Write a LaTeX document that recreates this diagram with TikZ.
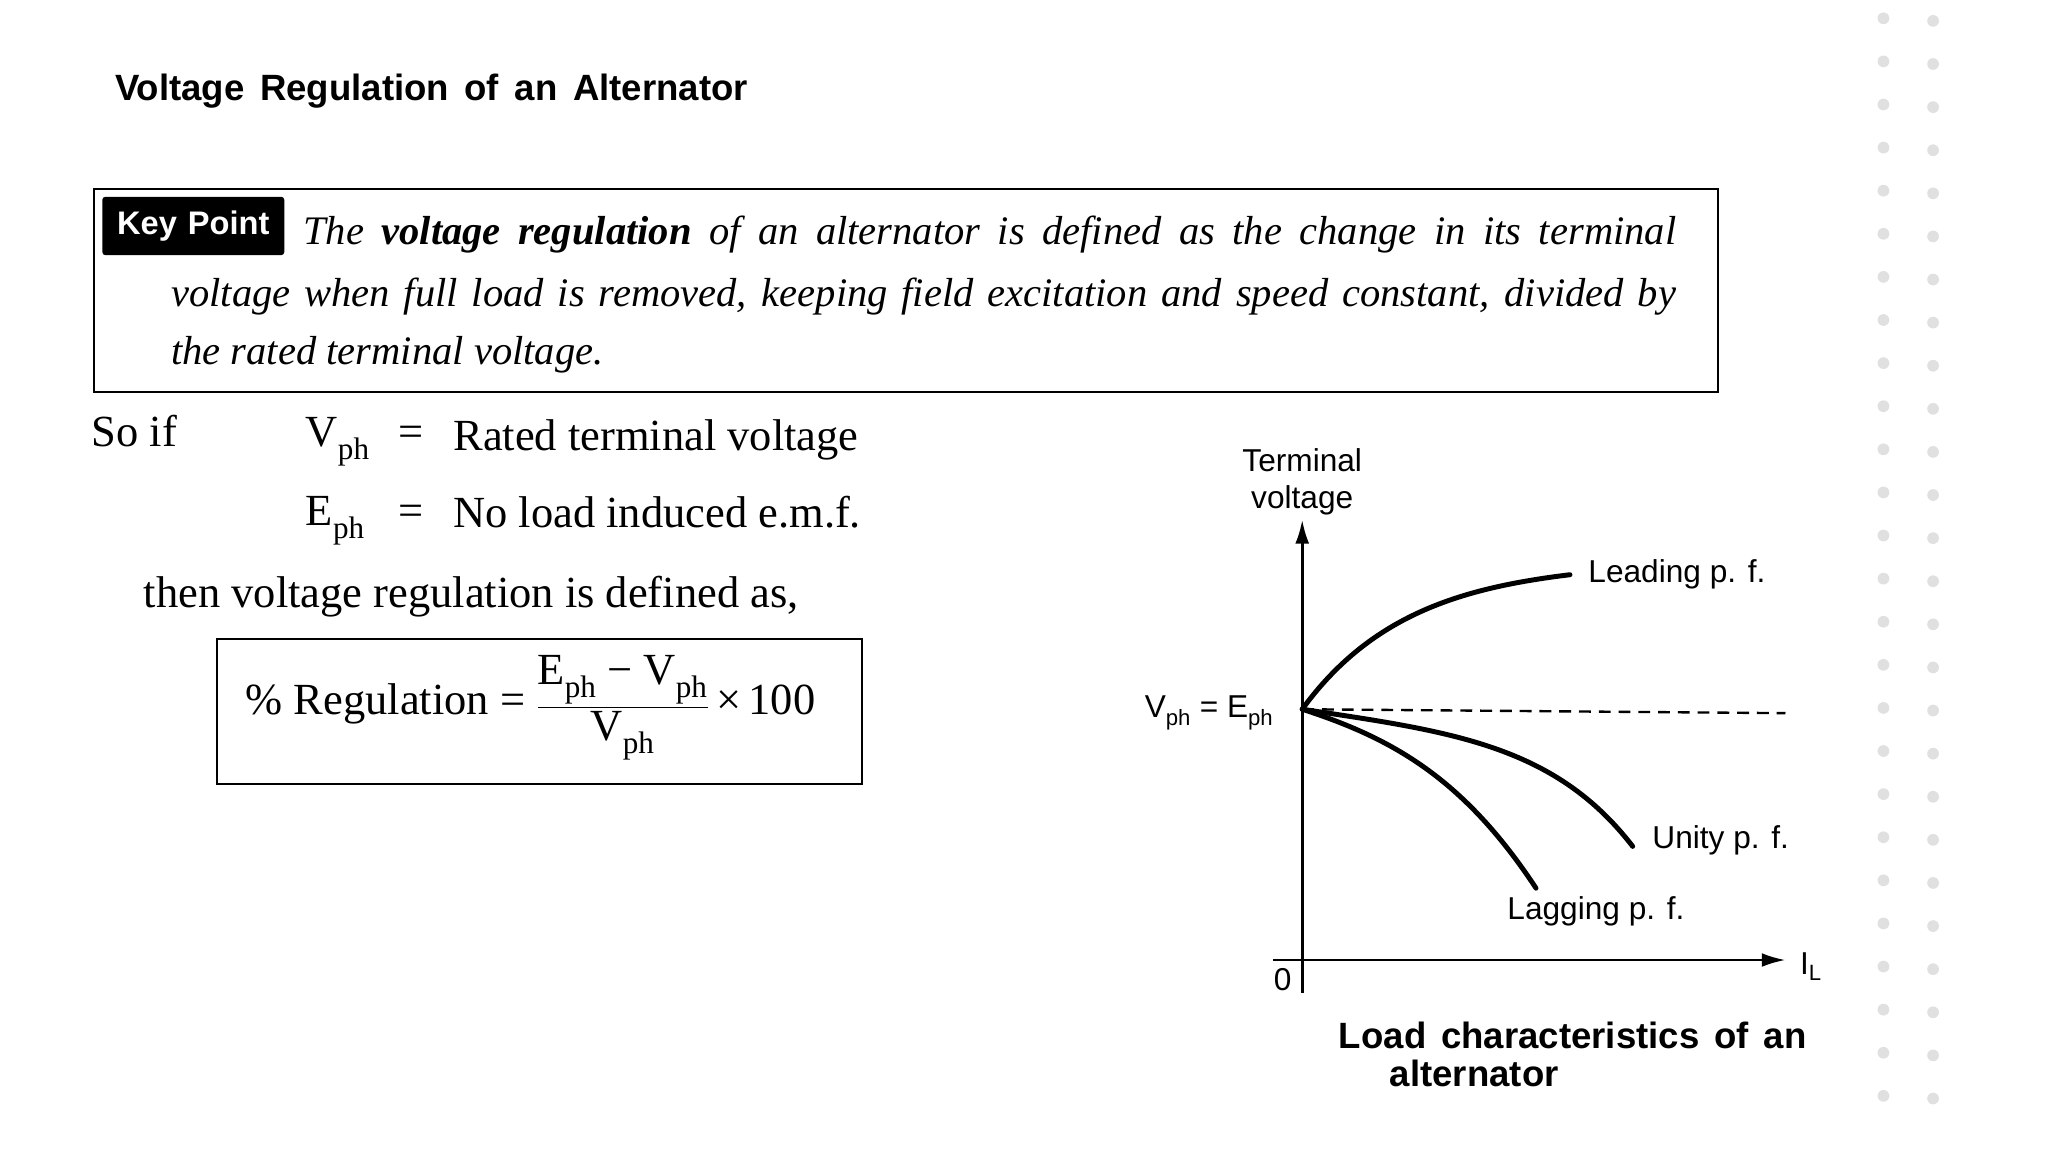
\documentclass[tikz,border=0pt]{standalone}
\usepackage{fontspec}
\setmainfont{Liberation Serif}
\setsansfont{Liberation Sans}
\usepackage{amsmath}
\usetikzlibrary{arrows.meta}
\tikzset{
  body/.style={font=\fontsize{45}{54}\selectfont, inner sep=0pt},
  keytxt/.style={font=\fontsize{41}{48}\selectfont\itshape, inner sep=0pt, anchor=base west},
  glabel/.style={font=\sffamily\fontsize{32}{38}\selectfont, inner sep=0pt},
  capt/.style={font=\sffamily\bfseries\fontsize{37}{43}\selectfont, inner sep=0pt, anchor=west},
  curve/.style={line width=5pt, line cap=round},
  axis/.style={line width=2.6pt, -{Latex[length=24pt,width=14pt]}},
  dotc/.style={fill=black!12, draw=none}
}
\newcommand{\phsub}{$_{\text{ph}}$}
\begin{document}
\begin{tikzpicture}[x=1.3213pt,y=-1.3213pt]
\useasboundingbox (0,0) rectangle (1568,882);
% title
\node[font=\sffamily\bfseries\fontsize{37}{44}\selectfont, anchor=base west, inner sep=0pt] (title) at (88,77) {\makebox[640pt][s]{Voltage Regulation of an Alternator}};
% key point box
\draw[line width=2pt] (72,145) rectangle (1315,300);
\node[fill=black, text=white, font=\sffamily\bfseries\fontsize{33}{38}\selectfont, rounded corners=3pt, inner sep=0pt, minimum height=59pt, text width=184pt, align=center] (kp) at (148,173) {Key Point};
\node[keytxt] (k1) at (232,187) {\makebox[1389pt][s]{The \textbf{voltage regulation} of an alternator is defined as the change in its terminal}};
\node[keytxt] (k2) at (131,235) {\makebox[1522pt][s]{voltage when full load is removed, keeping field excitation and speed constant, divided by}};
\node[keytxt] (k3) at (131,279) {the rated terminal voltage.};
% definitions
\node[body, anchor=base west] (soif) at (70,342) {So if};
\node[body, anchor=base west] (v) at (234,342) {V\phsub};
\node[body, anchor=base west] (eq1) at (305,342) {=};
\node[body, anchor=base west] (r1) at (347,345) {Rated terminal voltage};
\node[body, anchor=base west] (e) at (234,402) {E\phsub};
\node[body, anchor=base west] (eq2) at (305,402) {=};
\node[body, anchor=base west] (r2) at (347,404) {No load induced e.m.f.};
\node[body, anchor=base west] (then) at (110,465) {then voltage regulation is defined as,};
% formula box
\draw[line width=2pt] (166,489) rectangle (660,600);
\node[body, anchor=west] (form) at (188,542) {\% Regulation = $\dfrac{\text{E\phsub{} − V\phsub}}{\text{V\phsub}}$\,×\,100};
% graph
\coordinate (ytop) at (997,398);
\coordinate (xend) at (1367,735);
\coordinate (xst) at (975,735);
\coordinate (ybot) at (997,760);
\coordinate (P) at (997,543);
\draw[axis] (ybot) -- (ytop);
\draw[axis] (xst) -- (xend);
\node[glabel] (zero) at (982,750) {0};
\node[glabel, anchor=west] (il) at (1378,740) {I$_{\text{L}}$};
\node[glabel, align=center] (tv) at (997,369) {Terminal\\voltage};
\node[glabel, anchor=east] (vpe) at (975,546) {V$_{\text{ph}}$ = E$_{\text{ph}}$};
\coordinate (lead) at (1202,440);
\coordinate (unity) at (1250,648);
\coordinate (lag) at (1176,680);
\coordinate (dend) at (1367,546);
\draw[line width=2.4pt, dash pattern=on 12pt off 8pt] (P) -- (dend);
\draw[curve] (P) .. controls (1050,470) and (1120,450) .. (lead);
\draw[curve] (P) .. controls (1110,560) and (1190,570) .. (unity);
\draw[curve] (P) .. controls (1065,565) and (1120,595) .. (lag);
\node[glabel, anchor=west] (llead) at (1216,440) {Leading p. f.};
\node[glabel, anchor=west] (lunity) at (1265,643) {Unity p. f.};
\node[glabel, anchor=west] (llag) at (1154,698) {Lagging p. f.};
\node[capt] (cap1) at (1025,793) {\makebox[473pt][s]{Load characteristics of an}};
\node[capt] (cap2) at (1064,822) {alternator};
% dotted margin
\foreach \i in {0,...,25} {
  \fill[dotc] (1442,{14+33*\i}) circle (4.5);
  \fill[dotc] (1480,{16+33*\i}) circle (4.5);
}
\end{tikzpicture}
\end{document}
